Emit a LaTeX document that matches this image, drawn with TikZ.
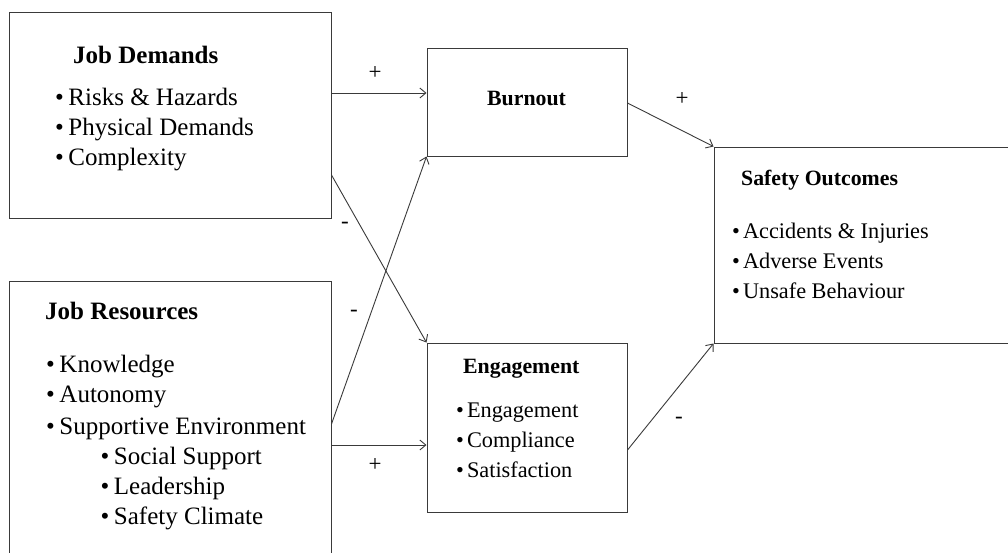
\documentclass[tikz,border=0pt]{standalone}
\usepackage{fontspec}
\setmainfont{Liberation Serif}
\usetikzlibrary{arrows.meta,calc}
\definecolor{ln}{HTML}{3A3A3A}
\begin{document}
\begin{tikzpicture}[x=1pt,y=-1pt,
  box/.style={draw=ln,line width=1pt,rectangle,inner sep=0pt},
  arr/.style={draw=ln,line width=0.9pt,-{Straight Barb[length=6pt,width=10pt,line width=0.9pt]}},
  ttlL/.style={anchor=base west,inner sep=0pt,font=\fontsize{25}{29}\selectfont\bfseries},
  itmL/.style={anchor=base west,inner sep=0pt,font=\fontsize{25}{29}\selectfont},
  ttlR/.style={anchor=base west,inner sep=0pt,font=\fontsize{21.8}{25}\selectfont\bfseries},
  itmR/.style={anchor=base west,inner sep=0pt,font=\fontsize{22.3}{26}\selectfont},
  sgn/.style={inner sep=0pt,font=\fontsize{23}{27}\selectfont}]
\newcommand{\bulL}{\textbullet\hspace{4.5pt}}
\newcommand{\bulR}{\textbullet\hspace{3pt}}
\useasboundingbox (0,0) rectangle (1008,552);
\fill[white] (0,0) rectangle (1008,552);
\begin{scope}
\clip (0,0) rectangle (1008,552);
% boxes
\node[box,minimum width=322pt,minimum height=206pt] (jd) at (170,115) {};
\node[box,minimum width=322pt,minimum height=285pt] (jr) at (170,423.5) {};
\node[box,minimum width=200pt,minimum height=108pt] (bo) at (527,102) {};
\node[box,minimum width=200pt,minimum height=169pt] (en) at (527,427.5) {};
\node[box,minimum width=306pt,minimum height=196pt] (so) at (867,245) {};
\end{scope}
% texts
\node[ttlL] (jdt) at (73,63) {Job Demands};
\node[itmL] (jd1) at (55,105) {\bulL Risks \& Hazards};
\node[itmL] (jd2) at (55,135) {\bulL Physical Demands};
\node[itmL] (jd3) at (55,165) {\bulL Complexity};
\node[ttlL] (jrt) at (45,319) {Job Resources};
\node[itmL] (jr1) at (46,372) {\bulL Knowledge};
\node[itmL] (jr2) at (46,402) {\bulL Autonomy};
\node[itmL] (jr3) at (46,434) {\bulL Supportive Environment};
\node[itmL] (jr4) at (100.5,464) {\bulL Social Support};
\node[itmL] (jr5) at (100.5,494) {\bulL Leadership};
\node[itmL] (jr6) at (100.5,524) {\bulL Safety Climate};
\node[ttlR] (bot) at (487,105) {Burnout};
\node[ttlR] (ent) at (463,373) {Engagement};
\node[itmR] (en1) at (456,417) {\bulR Engagement};
\node[itmR] (en2) at (456,447) {\bulR Compliance};
\node[itmR] (en3) at (456,477) {\bulR Satisfaction};
\node[ttlR] (sot) at (741,185) {Safety Outcomes};
\node[itmR] (so1) at (732,238) {\bulR Accidents \& Injuries};
\node[itmR] (so2) at (732,268) {\bulR Adverse Events};
\node[itmR] (so3) at (732,298) {\bulR Unsafe Behaviour};
% connectors
\draw[arr] ([yshift=22pt]jd.east) coordinate (a1) -- (a1 -| bo.west);
\draw[arr] ([yshift=-60pt]jd.east) -- (en.north west);
\draw[arr] ([yshift=-0.5pt]jr.east) -- (bo.south west);
\draw[arr] ([yshift=-21.5pt]jr.east) coordinate (a4) -- (a4 -| en.west);
\draw[arr] ([yshift=-1pt]bo.east) -- (so.north west);
\draw[arr] ([yshift=-22.5pt]en.east) -- (so.south west);
% signs
\node[sgn] (s1) at (375,73) {+};
\node[sgn] (s2) at (345,225) {-};
\node[sgn] (s3) at (354,313) {-};
\node[sgn] (s4) at (375,465) {+};
\node[sgn] (s5) at (682,99) {+};
\node[sgn] (s6) at (679,420) {-};
\end{tikzpicture}
\end{document}
